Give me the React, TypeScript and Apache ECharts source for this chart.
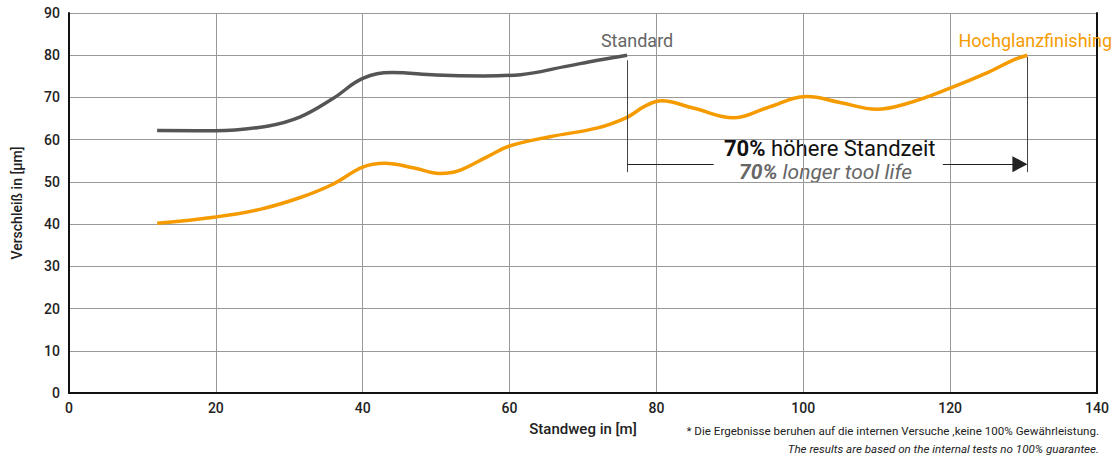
import React, { useEffect, useRef } from "react";
import * as echarts from "echarts";

const standardData: [number, number][] = [
  [12, 62.2], [20, 62.1], [27, 63.2], [31.5, 65.4], [36, 69.8], [40, 74.5], [44, 75.9],
  [50, 75.3], [56.5, 75.1], [61.5, 75.4], [67.5, 77.3], [72, 78.8], [76, 80],
];
const hochglanzData: [number, number][] = [
  [12, 40.2], [20, 41.7], [26, 43.5], [31.5, 46.3], [36, 49.5], [40, 53.5], [43, 54.4],
  [47, 53.3], [50.5, 52], [53, 52.6], [57, 56], [60, 58.5], [65.5, 60.7], [72, 62.8],
  [76, 65.3], [78.5, 68], [80.7, 69.2], [85, 67.5], [90.5, 65.2], [95, 67.5], [100.5, 70.2],
  [105, 68.8], [110, 67.2], [114, 68.5], [120, 72.2], [125, 75.8], [128.5, 78.8], [130.5, 80],
];
const seriesNames = ["Standard", "Hochglanzfinishing"];
const xTitle = "Standweg in [m]";
const yTitle = "Verschleiß in [µm]";
const noteDe = "* Die Ergebnisse beruhen auf die internen Versuche ,keine 100% Gewährleistung.";
const noteEn = "The results are based on the internal tests no 100% guarantee.";
const annoLine1 = ["70%", " höhere Standzeit"];
const annoLine2 = ["70%", " longer tool life"];
// annotation geometry (data coords)
const annoStartX = 76;
const annoEndX = 130.5;
const annoArrowX = 129.5;
const annoY = 54.2;
const annoBottomY = 52.3;
const annoGapFrom = 87.8;
const annoGapTo = 119;

const FONT = "Roboto";
const GREY = "#555555";
const ORANGE = "#F59B00";

export default function App() {
  const ref = useRef<HTMLDivElement>(null);
  useEffect(() => {
    if (!ref.current) return;
    const chart = echarts.init(ref.current, undefined, { renderer: "svg" });
    const annoStyle = { color: "#444", width: 1, type: "solid" as const };
    const arrowStyle = { color: "#222", width: 1, type: "solid" as const };
    chart.setOption({
      animation: false,
      textStyle: { fontFamily: FONT },
      grid: { left: 69, right: 19, top: 13, bottom: 66, outerBoundsMode: "none", containLabel: false },
      xAxis: {
        type: "value",
        min: 0,
        max: 140,
        interval: 20,
        name: xTitle,
        nameLocation: "middle",
        nameGap: 28,
        nameTextStyle: { fontFamily: FONT, fontSize: 15, fontWeight: 500, color: "#222" },
        axisLine: { show: true, lineStyle: { color: "#111", width: 2 } },
        axisTick: { show: false },
        axisLabel: { fontFamily: FONT, fontSize: 14, fontWeight: 500, color: "#222", margin: 8 },
        splitLine: { show: true, lineStyle: { color: "#999", width: 1 } },
      },
      yAxis: [
        {
          type: "value",
          min: 0,
          max: 90,
          interval: 10,
          name: yTitle,
          nameLocation: "middle",
          nameGap: 45,
          nameTextStyle: { fontFamily: FONT, fontSize: 14, fontWeight: 500, color: "#222" },
          axisLine: { show: true, lineStyle: { color: "#111", width: 2 } },
          axisTick: { show: false },
          axisLabel: { fontFamily: FONT, fontSize: 14, fontWeight: 500, color: "#222", margin: 9 },
          splitLine: { show: true, lineStyle: { color: "#999", width: 1 } },
        },
        {
          type: "value",
          min: 0,
          max: 90,
          interval: 10,
          position: "right",
          axisLine: { show: true, lineStyle: { color: "#111", width: 2 } },
          axisTick: { show: false },
          axisLabel: { show: false },
          splitLine: { show: false },
        },
      ],
      series: [
        {
          name: seriesNames[0],
          type: "line",
          data: standardData,
          smooth: 0.4,
          symbol: "none",
          lineStyle: { color: GREY, width: 3.5 },
          markPoint: {
            symbol: "circle",
            symbolSize: 0,
            data: [{ coord: standardData[standardData.length - 1] }],
            label: {
              show: true,
              position: "top",
              offset: [10, -1],
              formatter: seriesNames[0],
              fontFamily: FONT,
              fontSize: 18,
              color: "#666",
            },
          },
        },
        {
          name: seriesNames[1],
          type: "line",
          data: hochglanzData,
          smooth: 0.4,
          symbol: "none",
          lineStyle: { color: ORANGE, width: 3.5 },
          markPoint: {
            symbol: "circle",
            symbolSize: 0,
            data: [{ coord: hochglanzData[hochglanzData.length - 1] }],
            label: {
              show: true,
              position: "top",
              offset: [8, -1],
              formatter: seriesNames[1],
              fontFamily: FONT,
              fontSize: 18,
              color: ORANGE,
            },
          },
          markLine: {
            silent: true,
            symbol: ["none", "none"],
            label: { show: false },
            lineStyle: annoStyle,
            data: [
              [{ coord: [annoStartX, standardData[standardData.length - 1][1] - 1.2] }, { coord: [annoStartX, annoBottomY] }],
              [{ coord: [annoEndX, hochglanzData[hochglanzData.length - 1][1] - 0.4] }, { coord: [annoEndX, annoBottomY] }],
              [{ coord: [annoStartX, annoY], lineStyle: arrowStyle }, { coord: [annoGapFrom, annoY] }],
              [
                { coord: [annoGapTo, annoY], symbol: "none", lineStyle: arrowStyle },
                { coord: [annoArrowX, annoY], symbol: "triangle", symbolSize: [16, 15] },
              ],
            ],
          },
        },
      ],
      graphic: [
        {
          type: "text",
          left: 724,
          top: 137,
          style: {
            text: `{b|${annoLine1[0]}}{n|${annoLine1[1]}}`,
            rich: {
              b: { fontFamily: FONT, fontSize: 22, fontWeight: "bold", fill: "#111", lineHeight: 22 },
              n: { fontFamily: FONT, fontSize: 22, fill: "#111", lineHeight: 22 },
            },
          },
        },
        {
          type: "text",
          left: 739,
          top: 161,
          style: {
            text: `{b|${annoLine2[0]}}{n|${annoLine2[1]}}`,
            rich: {
              b: { fontFamily: FONT, fontSize: 21, fontWeight: "bold", fontStyle: "italic", fill: "#666", lineHeight: 21 },
              n: { fontFamily: FONT, fontSize: 21, fontStyle: "italic", fill: "#666", lineHeight: 21 },
            },
          },
        },
        {
          type: "text",
          right: 17,
          top: 425,
          style: { text: noteDe, fontFamily: FONT, fontSize: 11.6, fill: "#222" },
        },
        {
          type: "text",
          right: 17,
          top: 443,
          style: { text: noteEn, fontFamily: FONT, fontSize: 11.6, fontStyle: "italic", fill: "#222" },
        },
      ],
    });
    return () => chart.dispose();
  }, []);
  return (
    <div
      ref={ref}
      style={{ position: "fixed", left: 0, top: 0, width: 1116, height: 459, background: "#fff" }}
    />
  );
}
